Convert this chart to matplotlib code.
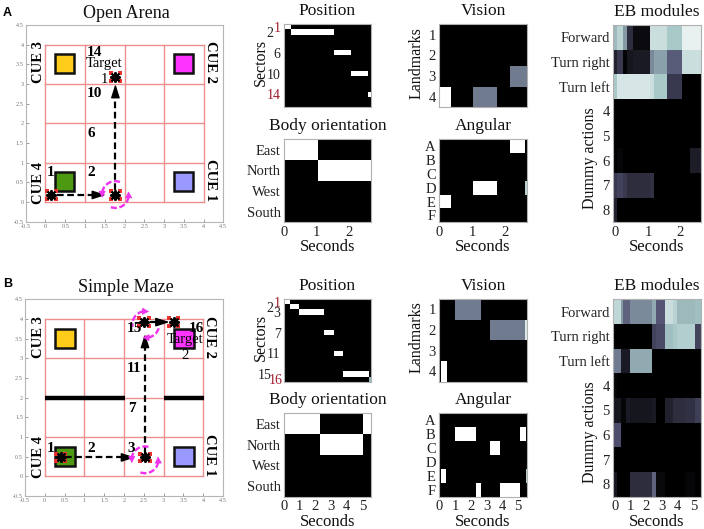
import math
import matplotlib
matplotlib.use("Agg")
import matplotlib.pyplot as plt
from matplotlib.patches import Rectangle, Arc

plt.rcParams["font.family"] = ["Liberation Serif", "DejaVu Serif"]

W, H = 704, 529

# arena data
arena_ticks = [-0.5, 0, 0.5, 1, 1.5, 2, 2.5, 3, 3.5, 4, 4.5]
arena_tick_labels = ["-0.5", "0", "0.5", "1", "1.5", "2", "2.5", "3", "3.5", "4", "4.5"]
cue_colors = ["#ffcc1a", "#ff33ff", "#4d9911", "#9999ff"]
cues_a = [(0.23, 3.27), (3.24, 3.27), (0.23, 0.27), (3.24, 0.27)]
cues_b = [(0.25, 3.25), (3.27, 3.25), (0.25, 0.25), (3.27, 0.25)]
stops_a_x = [0.15, 1.77, 1.77]
stops_a_y = [0.18, 0.18, 3.18]
stops_b_x = [0.4, 2.53, 2.5, 3.25]
stops_b_y = [0.48, 0.48, 3.92, 3.92]
legs_a = [(0.3, 0.18, 1.25, 0.18), (1.77, 0.3, 1.77, 2.72)]
legs_b = [(0.5, 0.48, 2.0, 0.48), (2.53, 0.6, 2.53, 3.34), (2.65, 3.92, 2.87, 3.92)]
# turn arcs: centre x, centre y, radius, start angle, end angle
turns_a = [(1.77, 0.19, 0.34, 70, 170), (1.77, 0.19, 0.34, 250, 350)]
turns_b = [(2.53, 0.42, 0.34, 75, 170), (2.53, 0.42, 0.34, 250, 350),
           (2.55, 3.86, 0.34, 190, 100), (2.55, 3.86, 0.34, 350, 280)]
walls_x = [(0, 2.03), (3, 4.03)]
labels_a = [("14", 1.24, 3.79, True), ("10", 1.24, 2.75, True), ("6", 1.15, 1.75, True),
            ("2", 1.15, 0.74, True), ("1", 0.12, 0.74, True), ("Target", 1.48, 3.52, False),
            ("1", 1.48, 3.11, False)]
labels_b = [("15", 2.27, 3.75, True), ("16", 3.84, 3.76, True), ("11", 2.25, 2.75, True),
            ("7", 2.19, 1.73, True), ("3", 2.17, 0.71, True), ("2", 1.17, 0.71, True),
            ("1", 0.14, 0.71, True), ("Target", 3.54, 3.49, False), ("2", 3.54, 3.07, False)]

# binary panels: (row, start, end, value)
position_a = [(1, 0, 0.21, 1.0), (2, 0.21, 1.54, 1.0), (6, 1.54, 2.04, 1.0), (10, 2.04, 2.56, 1.0), (14, 2.56, 2.66, 1.0)]
position_b = [(1, 0, 0.36, 1.0), (2, 0.36, 0.96, 1.0), (3, 0.96, 2.57, 1.0), (7, 2.57, 3.17, 1.0),
              (11, 3.17, 3.79, 1.0), (15, 3.79, 5.45, 1.0), (16, 5.45, 5.55, 0.7)]
body_a = [(1, 0, 1.04, 1.0), (2, 1.04, 2.66, 1.0)]
body_b = [(1, 0, 2.28, 1.0), (2, 2.28, 5.06, 1.0), (1, 5.06, 5.55, 1.0)]
vision_a = [(3, 2.16, 2.66, 0.5), (4, 0.02, 0.37, 1.0), (4, 1.03, 1.77, 0.5)]
vision_b = [(1, 1.02, 2.66, 0.5), (2, 3.23, 5.47, 0.5), (2, 5.47, 5.57, 0.9), (4, 0.08, 0.47, 1.0)]
angular_a = [(1, 2.16, 2.6, 1.0), (4, 1.03, 1.77, 1.0), (4, 2.6, 2.66, 0.8), (5, 0.02, 0.37, 1.0)]
angular_b = [(2, 1.02, 2.34, 1.0), (2, 5.1, 5.49, 1.0), (3, 3.23, 3.87, 1.0), (5, 0.08, 0.45, 1.0),
             (5, 5.49, 5.57, 0.8), (6, 2.34, 2.66, 1.0), (6, 3.87, 5.12, 1.0)]

# EB module activity
eb_a_edges = [-0.07, 0.05, 0.24, 0.34, 0.55, 1.07, 1.19, 1.58, 2.06, 2.3, 2.63]
eb_a = [
    [0.7, 0.8, 0.6, 0.2, 0.05, 0.85, 0.85, 0.75, 0.93, 0.93],
    [0.15, 0.25, 0.02, 0.1, 0.12, 0.55, 0.62, 0.4, 0.85, 0.85],
    [0.75, 0.88, 0.88, 0.88, 0.88, 0.85, 0.75, 0.25, 0, 0],
    [0, 0, 0, 0, 0, 0, 0, 0, 0, 0],
    [0, 0, 0, 0, 0, 0, 0, 0, 0, 0],
    [0, 0.03, 0, 0, 0, 0, 0, 0, 0, 0.13],
    [0.25, 0.3, 0.25, 0.2, 0.2, 0.22, 0, 0, 0, 0],
    [0.15, 0, 0, 0, 0, 0, 0, 0, 0, 0],
]
eb_b_edges = [-0.1, 0.16, 0.37, 0.5, 0.71, 0.96, 2.35, 2.62, 3.2, 3.73, 3.94, 4.47, 5.11, 5.47]
eb_b = [
    [0.82, 0.82, 0.6, 0.42, 0.42, 0.55, 0.65, 0.38, 0.85, 0.8, 0.7, 0.7, 0.72],
    [0, 0, 0, 0, 0, 0, 0.3, 0.33, 0.72, 0.75, 0.78, 0.78, 0.3],
    [0.5, 0.5, 0.12, 0.12, 0.12, 0.65, 0, 0, 0, 0, 0, 0, 0],
    [0.03, 0, 0, 0, 0, 0, 0, 0, 0, 0, 0, 0, 0],
    [0.1, 0.1, 0.03, 0.03, 0.12, 0.1, 0.12, 0, 0.15, 0.2, 0.2, 0.22, 0.28],
    [0.35, 0.35, 0, 0, 0, 0, 0, 0, 0, 0, 0, 0, 0],
    [0, 0, 0, 0, 0, 0, 0, 0, 0, 0, 0, 0, 0],
    [0.1, 0, 0, 0, 0, 0.2, 0.42, 0.04, 0, 0, 0, 0.03, 0],
]
eb_rows = [1, 2, 3, 4, 5, 6, 7, 8]
eb_labels = ["Forward", "Turn right", "Turn left", "4", "5", "6", "7", "8"]

fig = plt.figure(figsize=(W / 100, H / 100), dpi=100)


def axes_px(left, top, right, bottom):
    return fig.add_axes([left / W, 1 - bottom / H, (right - left) / W, (bottom - top) / H])


def arena(box, title, cues, stops_x, stops_y, legs, turns, labels, walls=None):
    ax = axes_px(*box)
    ax.set_xlim(-0.5, 4.5)
    ax.set_ylim(-0.5, 4.5)
    ax.set_xticks(arena_ticks, arena_tick_labels)
    ax.set_yticks(arena_ticks, arena_tick_labels)
    ax.tick_params(labelsize=4.5, length=2, width=0.5, direction="in", colors="#777777", pad=1.5)
    for s in ax.spines.values():
        s.set_color("#b5b5b5")
        s.set_linewidth(0.8)
    for v in range(5):
        ax.plot([v, v], [0, 4], color="#ee8f8f", lw=1)
        ax.plot([0, 4], [v, v], color="#ee8f8f", lw=1)
    for (x, y), c in zip(cues, cue_colors):
        ax.add_patch(Rectangle((x, y), 0.5, 0.5, fc=c, ec="#111111", lw=1.8, zorder=3))
    if walls:
        for x0, x1 in walls:
            ax.plot([x0, x1], [2, 2], color="black", lw=3.2, solid_capstyle="butt", zorder=3)
    for x0, y0, x1, y1 in legs:
        ax.plot([x0, x1], [y0, y1], color="black", lw=1.6, ls=(0, (3, 1.6)), zorder=4)
        ax.annotate("", xy=(x1 + (0.28 if y0 == y1 else 0), y1 + (0.28 if x0 == x1 else 0)),
                    xytext=(x1, y1),
                    arrowprops=dict(arrowstyle="-|>,head_length=0.75,head_width=0.24", color="black",
                                    lw=1, shrinkA=0, shrinkB=0, mutation_scale=11), zorder=4)
    for cx, cy, r, start, end in turns:
        ax.add_patch(Arc((cx, cy), 2 * r, 2 * r, theta1=min(start, end), theta2=max(start, end),
                         color="#ee33ee", lw=1.7, ls=(0, (2.6, 1.1)), zorder=5))
        sign = 1 if end > start else -1
        head_a = math.radians(end)
        tip_a = math.radians(end + sign * 24)
        ax.annotate("", xy=(cx + r * math.cos(tip_a), cy + r * math.sin(tip_a)),
                    xytext=(cx + r * math.cos(head_a), cy + r * math.sin(head_a)),
                    arrowprops=dict(arrowstyle="-|>,head_length=0.45,head_width=0.24", color="#ee33ee",
                                    lw=0.6, shrinkA=0, shrinkB=0, mutation_scale=9), zorder=5)
    for dx in (-0.12, 0.12):
        for dy in (-0.1, 0.1):
            ax.scatter([x + dx for x in stops_x], [y + dy for y in stops_y], s=12, marker="s",
                       color="#e8322e", lw=0, zorder=5)
    ax.scatter(stops_x, stops_y, s=42, marker=(8, 2, 0), color="black", lw=1.5, zorder=6)
    ax.scatter(stops_x, stops_y, s=30, marker="*", color="black", lw=0, zorder=6)
    for txt, x, y, bold in labels:
        ax.text(x, y, txt, fontsize=11 if bold else 10.5, weight="bold" if bold else "normal",
                ha="center", va="center", zorder=7)
    for txt, y in [("CUE 3", 3.55), ("CUE 4", 0.48)]:
        ax.text(-0.17, y, txt, rotation=90, fontsize=10.5, weight="bold", ha="center", va="center")
    for txt, y in [("CUE 2", 3.55), ("CUE 1", 0.55)]:
        ax.text(4.17, y, txt, rotation=270, fontsize=10.5, weight="bold", ha="center", va="center")
    fig.text(126 / W, 1 - (box[1] - 12) / H, title, fontsize=13, ha="center", va="center",
             color="#111111")


def binary_panel(box, title, spans, n_rows, end, ticks, tick_labels, ylabel=None, xticks=None,
                 red=(), pads=None, ylab_x=None, tick_size=10.5):
    ax = axes_px(*box)
    ax.set_facecolor("black")
    for row, t0, t1, val in spans:
        ax.barh(row, t1 - t0, left=t0, height=1, color=plt.cm.bone(val), lw=0)
    ax.set_xlim(0, end)
    ax.set_ylim(n_rows + 0.5, 0.5)
    ax.set_yticks(ticks, tick_labels)
    ax.set_xticks(xticks if xticks else [])
    ax.tick_params(length=0, labelsize=tick_size, pad=2.5, colors="#222222")
    for tick in ax.yaxis.get_major_ticks():
        tick.label1.set_color("#a11d2b" if tick.get_loc() in red else "#222222")
    if pads:
        for tick, p in zip(ax.yaxis.get_major_ticks(), pads):
            tick.set_pad(p)
    ax.set_title(title, fontsize=12.5, pad=6.5, color="#111111")
    if xticks:
        ax.set_xlabel("Seconds", fontsize=12, labelpad=0.5, color="#111111")
    if ylabel:
        fig.text(ylab_x / W, 1 - ((box[1] + box[3]) / 2 - 3) / H, ylabel, rotation=90, fontsize=11.5,
                 ha="center", va="center", color="#111111")
    for s in ax.spines.values():
        s.set_color("#b0b0b0")
        s.set_linewidth(0.8)


def eb_panel(box, edges, values, xticks):
    ax = axes_px(*box)
    ax.pcolormesh(edges, [0.5 + i for i in range(9)], values, cmap="bone", vmin=0, vmax=1)
    ax.set_ylim(8.5, 0.5)
    ax.set_yticks(eb_rows, eb_labels)
    ax.set_xticks(xticks)
    ax.tick_params(length=0, labelsize=10.5, pad=2.5, colors="#222222")
    ax.set_title("EB modules", fontsize=12.5, pad=6.5, color="#111111")
    ax.set_xlabel("Seconds", fontsize=12, labelpad=0.5, color="#111111")
    fig.text(590 / W, 1 - (box[1] + 133) / H, "Dummy actions", rotation=90, fontsize=11.5,
             ha="center", va="center", color="#111111")
    for s in ax.spines.values():
        s.set_color("#b0b0b0")
        s.set_linewidth(0.8)


arena((25.7, 25, 223.3, 221.7), "Open Arena", cues_a, stops_a_x, stops_a_y, legs_a, turns_a, labels_a)
arena((25, 299.3, 223, 496), "Simple Maze", cues_b, stops_b_x, stops_b_y, legs_b, turns_b, labels_b, walls_x)

binary_panel((284, 24.3, 371, 107.3), "Position", position_a, 16, 2.66,
             [1, 2, 6, 10, 14], ["1", "2", "6", "10", "14"], "Sectors", red=(1, 14),
             pads=[2.5, 8, 2.5, 2.5, 2.5], ylab_x=261, tick_size=10)
binary_panel((284, 139.3, 371, 222.3), "Body orientation", body_a, 4, 2.66,
             [1, 2, 3, 4], ["East", "North", "West", "South"], xticks=[0, 1, 2])
binary_panel((439.3, 24.3, 526.7, 107.3), "Vision", vision_a, 4, 2.66,
             [1, 2, 3, 4], ["1", "2", "3", "4"], "Landmarks", ylab_x=417)
binary_panel((439.3, 139.3, 526.7, 222.3), "Angular", angular_a, 6, 2.66,
             [1, 2, 3, 4, 5, 6], ["A", "B", "C", "D", "E", "F"], xticks=[0, 1, 2])
eb_panel((613.3, 25, 700.7, 222.3), eb_a_edges, eb_a, [0, 1, 2])

binary_panel((284, 299, 371, 381.7), "Position", position_b, 16, 5.55,
             [1, 2, 3, 7, 11, 15, 16], ["1", "2", "3", "7", "11", "15", "16"], "Sectors", red=(1, 16),
             pads=[2.5, 8, 2.5, 2.5, 2.5, 9, 1], ylab_x=261, tick_size=10)
binary_panel((284, 413.3, 371, 496.7), "Body orientation", body_b, 4, 5.55,
             [1, 2, 3, 4], ["East", "North", "West", "South"], xticks=[0, 1, 2, 3, 4, 5])
binary_panel((439.3, 299, 526.7, 381.7), "Vision", vision_b, 4, 5.55,
             [1, 2, 3, 4], ["1", "2", "3", "4"], "Landmarks", ylab_x=417)
binary_panel((439.3, 413.3, 526.7, 496.7), "Angular", angular_b, 6, 5.55,
             [1, 2, 3, 4, 5, 6], ["A", "B", "C", "D", "E", "F"], xticks=[0, 1, 2, 3, 4, 5])
eb_panel((613.3, 299.3, 700.7, 496.7), eb_b_edges, eb_b, [0, 1, 2, 3, 4, 5])

fig.text(3 / W, 1 - 13 / H, "A", family="Liberation Sans", weight="bold", fontsize=9, va="center")
fig.text(3 / W, 1 - 284 / H, "B", family="Liberation Sans", weight="bold", fontsize=9, va="center")

fig.savefig("out.png", dpi=100)
